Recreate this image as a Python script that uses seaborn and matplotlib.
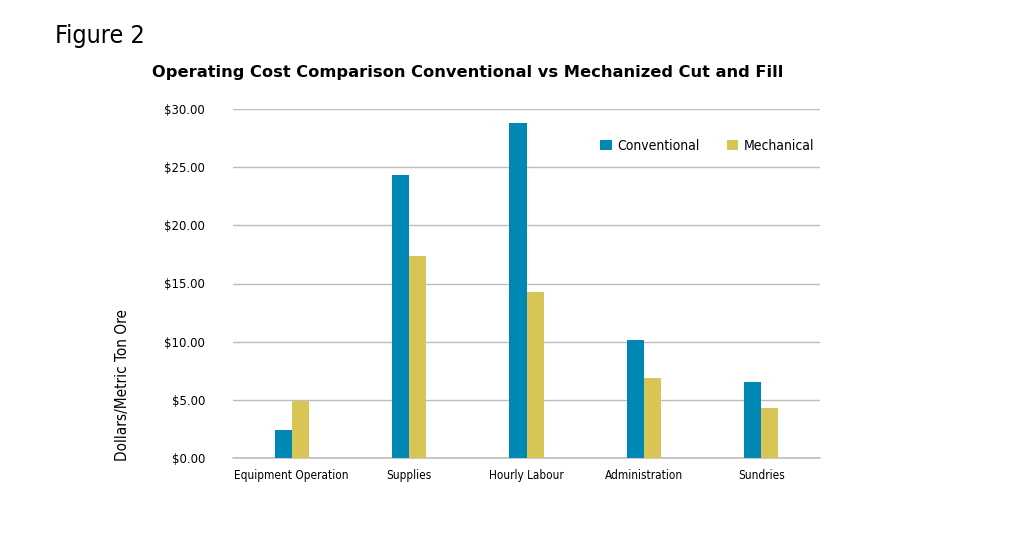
import matplotlib
matplotlib.use("Agg")
import matplotlib.pyplot as plt
import seaborn as sns
import pandas as pd

categories = ["Equipment Operation", "Supplies", "Hourly Labour", "Administration", "Sundries"]
conventional = [2.4, 24.3, 28.8, 10.15, 6.55]
mechanical = [4.9, 17.35, 14.3, 6.85, 4.33]
series_names = ["Conventional", "Mechanical"]
yticks = [0, 5, 10, 15, 20, 25, 30]
ytick_labels = ["$0.00", "$5.00", "$10.00", "$15.00", "$20.00", "$25.00", "$30.00"]

df = pd.DataFrame({
    "category": categories * 2,
    "value": conventional + mechanical,
    "series": [series_names[0]] * len(categories) + [series_names[1]] * len(categories),
})

sns.set_theme(style="white")
plt.rcParams['font.family'] = ['DejaVu Sans']
plt.rcParams['text.color'] = 'black'
plt.rcParams['xtick.color'] = 'black'
plt.rcParams['ytick.color'] = 'black'

fig = plt.figure(figsize=(10.24, 5.54), dpi=100)
ax = fig.add_axes([233/1024, 1 - 458/554, (820-233)/1024, (458-109)/554])

palette = {"Conventional": "#0088B4", "Mechanical": "#D9C456"}
sns.barplot(data=df, x="category", y="value", hue="series", order=categories,
            hue_order=series_names, palette=palette, width=0.29, gap=0,
            saturation=1, ax=ax, legend=True, edgecolor="none", linewidth=0)

ax.set_xlim(-0.5, 4.5)
ax.set_ylim(0, 30)
ax.set_yticks(yticks)
ax.set_yticklabels(ytick_labels, fontsize=8.5)
ax.grid(axis="y", color="#bdbdbd", linewidth=1)
ax.axhline(0, color="#bdbdbd", linewidth=1.2, clip_on=False, zorder=0.5)
ax.set_axisbelow(True)
for s in ax.spines.values():
    s.set_visible(False)
ax.tick_params(axis="both", length=0)
ax.tick_params(axis="y", pad=20)
ax.tick_params(axis="x", pad=8)
for lbl in ax.get_xticklabels():
    lbl.set_fontsize(8.5)
    lbl.set_fontstretch("condensed")
ax.set_xlabel("")
ax.set_ylabel("")

leg = ax.legend(loc="upper right", bbox_to_anchor=(1.0, 0.93), ncol=2, frameon=False,
                fontsize=10, handlelength=0.8, handleheight=0.8, handletextpad=0.4,
                columnspacing=2.0, borderaxespad=0)
for t in leg.get_texts():
    t.set_fontstretch("condensed")
    t.set_color("black")

fig.text(123/1024, 1 - 385/554, "Dollars/Metric Ton Ore", rotation=90, fontsize=11,
         ha="center", va="center", fontstretch="condensed", color="black")
fig.text(152/1024, 1 - 73/554, "Operating Cost Comparison Conventional vs Mechanized Cut and Fill",
         fontsize=11.7, fontweight="bold", ha="left", va="center", color="black")
fig.text(55/1024, 1 - 36/554, "Figure 2", fontsize=18, ha="left", va="center",
         fontstretch="condensed", color="black")

fig.savefig("out.png", dpi=100, facecolor="white")
